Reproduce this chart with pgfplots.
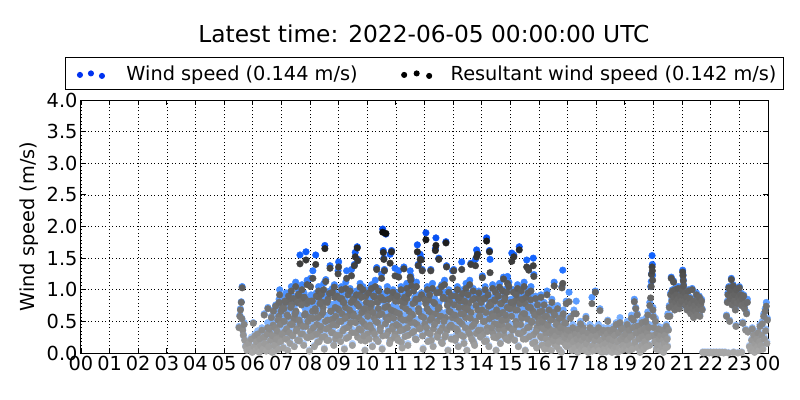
\documentclass[border=0pt]{standalone}
\usepackage{fontspec}
\setmainfont{DejaVu Sans}
\usepackage{pgfplots}
\usepackage{pgfplotstable}
\pgfplotsset{compat=1.18}
\definecolor{wsblue}{RGB}{0,50,240}
\pgfplotsset{
  colormap={wsmap}{rgb255=(195,218,255) rgb255=(125,178,255) rgb255=(70,142,255) rgb255=(20,100,255) rgb255=(0,70,235)},
  colormap={rwsmap}{rgb255=(168,168,168) rgb255=(128,128,128) rgb255=(95,95,95) rgb255=(55,55,55) rgb255=(5,5,5)}
}
\pgfplotstableread{
h ws rws
5.52 0.42 0.40
5.55 0.60 0.58
5.57 0.70 0.68
5.60 0.81 0.80
5.62 0.55 0.54
5.63 1.05 1.03
5.65 0.38 0.36
5.67 0.30 0.28
5.70 0.48 0.45
5.72 0.22 0.20
5.75 0.12 0.10
5.80 0.05 0.04
5.85 0.18 0.15
5.90 0.08 0.06
5.95 0.25 0.22
5.98 0.02 0.01
6.02 0.48 0.47
6.05 0.12 0.10
6.08 0.30 0.27
6.10 0.05 0.04
6.13 0.20 0.18
6.17 0.35 0.30
6.20 0.10 0.08
6.23 0.02 0.01
6.25 0.25 0.22
6.28 0.15 0.12
6.32 0.40 0.36
6.35 0.08 0.06
6.38 0.28 0.25
6.40 0.62 0.60
6.43 0.18 0.15
6.47 0.05 0.03
6.50 0.33 0.30
6.53 0.72 0.70
6.55 0.12 0.10
6.58 0.42 0.38
6.62 0.22 0.20
6.65 0.58 0.56
6.68 0.02 0.01
6.70 0.30 0.27
6.72 0.68 0.66
6.75 0.15 0.12
6.78 0.45 0.40
6.80 0.76 0.74
6.83 0.25 0.22
6.85 0.38 0.35
6.88 0.60 0.52
6.90 0.08 0.06
6.92 0.85 0.80
6.94 1.00 0.92
6.96 0.50 0.45
6.98 0.20 0.18
7.02 0.35 0.30
7.05 0.75 0.70
7.07 0.10 0.08
7.10 0.55 0.50
7.12 0.88 0.82
7.15 0.25 0.22
7.18 0.45 0.38
7.20 0.65 0.60
7.22 0.05 0.04
7.25 0.95 0.90
7.28 0.38 0.32
7.30 0.18 0.15
7.33 0.78 0.72
7.35 1.05 0.98
7.38 0.52 0.45
7.40 0.30 0.28
7.42 0.90 0.86
7.45 0.12 0.10
7.48 0.68 0.62
7.50 1.12 1.05
7.52 0.42 0.35
7.55 0.85 0.80
7.57 0.22 0.20
7.60 0.98 0.93
7.62 0.60 0.52
7.65 1.55 1.41
7.68 0.35 0.30
7.70 0.80 0.76
7.72 1.08 1.00
7.75 0.48 0.42
7.78 0.15 0.12
7.80 0.92 0.88
7.83 0.70 0.62
7.86 1.60 1.47
7.88 0.28 0.25
7.90 1.15 1.08
7.93 0.55 0.50
7.95 0.85 0.82
7.98 0.05 0.03
8.02 1.18 1.05
8.04 0.62 0.55
8.06 0.30 0.26
8.08 0.88 0.82
8.10 1.30 1.18
8.12 0.45 0.40
8.15 0.12 0.10
8.18 0.75 0.70
8.20 1.55 1.40
8.22 0.95 0.90
8.25 0.38 0.30
8.28 0.60 0.56
8.30 1.05 0.98
8.32 0.20 0.18
8.35 0.82 0.78
8.38 0.50 0.42
8.40 0.95 0.93
8.42 0.28 0.25
8.45 0.68 0.64
8.48 1.10 1.00
8.50 0.08 0.06
8.52 1.70 1.65
8.55 1.16 1.13
8.57 0.42 0.38
8.60 0.88 0.80
8.62 0.58 0.52
8.65 0.22 0.20
8.68 0.98 0.94
8.70 1.38 1.34
8.72 0.72 0.66
8.75 0.35 0.32
8.78 1.02 0.96
8.80 0.50 0.45
8.83 0.15 0.12
8.85 1.08 1.04
8.88 0.78 0.72
8.90 0.62 0.58
8.92 0.30 0.28
8.95 0.92 0.90
8.98 1.30 1.25
9.00 1.44 1.36
9.02 0.55 0.50
9.05 0.92 0.86
9.07 0.20 0.18
9.10 1.05 1.00
9.12 0.70 0.62
9.15 0.38 0.35
9.18 0.85 0.80
9.20 0.08 0.06
9.23 0.60 0.55
9.25 1.12 1.02
9.28 1.30 1.18
9.30 0.45 0.40
9.33 0.95 0.92
9.35 0.28 0.25
9.38 0.75 0.68
9.40 1.02 0.98
9.42 0.52 0.48
9.45 1.32 1.22
9.48 0.15 0.12
9.50 0.88 0.84
9.52 0.65 0.58
9.55 1.40 1.38
9.58 1.59 1.52
9.60 0.35 0.32
9.62 0.98 0.92
9.65 1.68 1.66
9.67 1.48 1.46
9.70 0.80 0.74
9.72 0.42 0.38
9.75 1.10 1.04
9.78 0.22 0.20
9.80 0.90 0.88
9.82 0.58 0.50
9.85 1.05 1.00
9.88 0.30 0.27
9.90 0.72 0.70
9.92 0.05 0.04
9.95 0.95 0.90
9.98 0.48 0.42
10.02 0.62 0.58
10.05 1.00 0.95
10.07 0.25 0.22
10.10 0.82 0.78
10.12 0.45 0.40
10.15 1.08 1.02
10.18 0.12 0.10
10.20 0.70 0.64
10.22 0.92 0.90
10.25 0.35 0.30
10.28 1.15 1.05
10.30 0.55 0.50
10.33 1.35 1.32
10.35 0.85 0.80
10.38 0.20 0.18
10.40 1.02 0.98
10.42 0.65 0.60
10.45 0.40 0.35
10.48 0.95 0.88
10.50 1.25 1.18
10.52 0.08 0.06
10.54 1.96 1.91
10.56 1.62 1.59
10.58 1.50 1.48
10.60 1.32 1.30
10.62 0.78 0.72
10.65 1.88 1.89
10.67 0.30 0.28
10.70 1.05 0.98
10.72 0.58 0.52
10.75 0.88 0.85
10.78 0.18 0.15
10.80 1.56 1.42
10.83 0.72 0.68
10.85 1.62 1.60
10.88 0.42 0.38
10.90 1.00 0.96
10.92 0.60 0.55
10.95 0.28 0.25
10.97 1.34 1.22
10.99 0.85 0.82
11.02 0.50 0.45
11.05 0.95 0.90
11.07 0.22 0.20
11.10 1.30 1.20
11.12 0.68 0.62
11.15 0.38 0.35
11.18 1.05 1.00
11.20 0.85 0.82
11.22 0.10 0.08
11.25 0.58 0.52
11.28 1.36 1.33
11.30 0.92 0.88
11.32 0.30 0.26
11.35 0.75 0.70
11.38 1.10 1.02
11.40 0.45 0.40
11.42 0.15 0.12
11.45 0.98 0.94
11.48 0.62 0.55
11.50 1.30 1.20
11.52 1.22 1.15
11.55 1.16 1.06
11.57 0.35 0.32
11.60 0.82 0.78
11.62 1.02 0.98
11.65 0.55 0.48
11.68 0.25 0.22
11.70 0.90 0.85
11.72 1.12 1.05
11.75 1.71 1.60
11.78 1.40 1.38
11.80 0.70 0.65
11.82 0.42 0.38
11.85 1.56 1.48
11.88 1.50 1.47
11.90 0.95 0.92
11.92 1.32 1.30
11.95 0.08 0.06
11.97 0.60 0.56
12.02 0.88 0.84
12.05 1.90 1.79
12.07 0.45 0.40
12.10 1.05 1.00
12.12 0.20 0.18
12.15 0.72 0.66
12.18 0.95 0.92
12.20 0.35 0.30
12.22 1.32 1.30
12.25 0.60 0.55
12.28 1.10 1.02
12.30 0.12 0.10
12.32 0.85 0.80
12.35 0.50 0.45
12.38 1.65 1.62
12.40 1.82 1.70
12.42 0.98 0.95
12.45 0.28 0.25
12.48 0.75 0.70
12.50 1.50 1.48
12.52 1.02 0.96
12.55 0.40 0.35
12.58 0.62 0.58
12.60 1.08 1.05
12.62 0.18 0.15
12.65 0.90 0.86
12.68 0.55 0.50
12.70 1.15 1.08
12.73 0.32 0.28
12.75 1.76 1.74
12.77 1.38 1.36
12.80 0.80 0.75
12.82 0.05 0.04
12.85 1.00 0.96
12.88 0.48 0.42
12.90 0.70 0.65
12.93 0.25 0.22
12.95 0.92 0.90
12.98 1.30 1.18
13.02 1.32 1.30
13.05 0.65 0.60
13.07 0.22 0.20
13.10 0.95 0.90
13.12 0.42 0.38
13.15 1.05 1.00
13.18 0.12 0.10
13.20 0.78 0.72
13.22 0.55 0.50
13.25 0.90 0.88
13.28 0.32 0.28
13.30 1.44 1.32
13.33 1.00 0.94
13.35 0.68 0.62
13.38 0.18 0.15
13.40 0.85 0.82
13.42 0.45 0.40
13.45 1.10 1.02
13.48 0.05 0.04
13.50 0.75 0.70
13.52 0.95 0.92
13.55 0.38 0.32
13.58 1.15 1.08
13.60 0.60 0.55
13.62 1.42 1.40
13.65 0.25 0.22
13.68 0.88 0.84
13.70 1.02 0.98
13.72 0.50 0.45
13.75 0.15 0.12
13.78 1.48 1.38
13.80 0.80 0.75
13.82 1.63 1.52
13.85 1.58 1.56
13.88 0.40 0.36
13.90 0.98 0.95
13.92 0.62 0.58
13.95 0.28 0.25
13.98 0.85 0.80
14.02 1.22 1.19
14.05 0.55 0.50
14.07 0.90 0.86
14.10 0.20 0.18
14.12 1.05 1.00
14.15 0.70 0.64
14.17 1.82 1.77
14.20 0.38 0.34
14.22 0.95 0.92
14.25 0.12 0.10
14.27 1.62 1.60
14.29 1.48 1.27
14.32 0.80 0.76
14.35 0.45 0.40
14.38 1.08 1.02
14.40 0.62 0.58
14.42 0.28 0.25
14.45 0.88 0.84
14.48 1.00 0.96
14.50 0.05 0.04
14.52 0.72 0.68
14.55 0.50 0.45
14.58 0.95 0.90
14.60 0.32 0.28
14.62 1.10 1.04
14.65 0.18 0.15
14.68 0.82 0.78
14.70 0.58 0.52
14.73 1.00 0.98
14.76 1.20 1.17
14.78 0.40 0.36
14.80 0.90 0.84
14.83 0.65 0.60
14.85 0.25 0.22
14.88 1.02 0.96
14.90 1.21 1.10
14.93 0.48 0.42
14.95 1.12 1.05
14.98 0.75 0.70
15.02 0.85 0.80
15.05 1.58 1.45
15.07 0.40 0.36
15.10 1.00 0.96
15.12 1.55 1.52
15.15 0.22 0.20
15.18 0.72 0.68
15.20 0.95 0.92
15.22 0.50 0.45
15.25 1.08 1.02
15.28 0.12 0.10
15.31 1.68 1.63
15.33 0.82 0.78
15.35 0.35 0.30
15.38 1.02 0.98
15.40 0.60 0.55
15.42 0.88 0.85
15.45 0.25 0.22
15.48 1.12 1.05
15.50 0.68 0.62
15.52 0.05 0.04
15.55 0.92 0.88
15.57 1.47 1.36
15.60 0.45 0.40
15.62 1.00 0.95
15.64 1.34 1.31
15.67 0.30 0.26
15.70 0.78 0.72
15.72 1.05 0.98
15.75 0.55 0.50
15.78 0.18 0.15
15.80 1.50 1.38
15.82 1.24 1.21
15.85 0.65 0.60
15.88 0.90 0.86
15.90 0.38 0.34
15.92 0.10 0.08
15.95 0.80 0.76
15.98 0.52 0.48
16.02 0.70 0.65
16.05 0.30 0.26
16.07 0.92 0.88
16.10 0.15 0.12
16.12 0.55 0.50
16.15 0.42 0.38
16.18 0.80 0.76
16.20 0.08 0.06
16.22 0.62 0.58
16.25 0.25 0.22
16.28 0.98 0.92
16.30 0.48 0.44
16.33 0.18 0.15
16.35 0.72 0.68
16.38 0.35 0.32
16.40 0.58 0.52
16.43 0.05 0.04
16.45 0.85 0.80
16.48 0.40 0.35
16.50 0.22 0.20
16.53 1.12 1.06
16.55 0.65 0.60
16.58 0.30 0.27
16.60 0.50 0.45
16.62 0.12 0.10
16.65 0.75 0.70
16.68 0.38 0.34
16.70 0.20 0.18
16.72 0.60 0.55
16.75 0.45 0.40
16.78 0.02 0.01
16.80 1.05 1.03
16.83 1.31 1.10
16.85 0.68 0.62
16.88 0.28 0.25
16.90 0.52 0.48
16.93 0.15 0.12
16.95 0.82 0.78
16.98 0.35 0.30
17.02 0.40 0.36
17.05 0.96 0.81
17.07 0.15 0.12
17.10 0.58 0.55
17.12 0.28 0.25
17.15 0.05 0.04
17.18 0.45 0.40
17.20 0.20 0.18
17.22 0.68 0.62
17.25 0.10 0.08
17.28 0.35 0.30
17.30 0.82 0.62
17.33 0.25 0.22
17.35 0.02 0.01
17.38 0.42 0.38
17.40 0.15 0.12
17.43 0.30 0.28
17.45 0.50 0.46
17.48 0.08 0.06
17.50 0.22 0.20
17.53 0.38 0.34
17.55 0.12 0.10
17.58 0.28 0.25
17.60 0.05 0.04
17.64 0.58 0.55
17.66 0.18 0.15
17.70 0.35 0.32
17.72 0.02 0.01
17.75 0.25 0.22
17.78 0.45 0.40
17.80 0.10 0.08
17.83 0.30 0.26
17.85 0.88 0.78
17.88 0.15 0.12
17.90 0.40 0.36
17.93 0.05 0.04
17.95 0.22 0.20
17.97 0.98 0.96
18.02 0.30 0.27
18.05 0.12 0.10
18.08 0.45 0.40
18.10 0.05 0.04
18.13 0.70 0.67
18.15 0.22 0.20
18.18 0.35 0.32
18.20 0.02 0.01
18.23 0.15 0.12
18.25 0.40 0.36
18.28 0.08 0.06
18.30 0.28 0.25
18.33 0.18 0.15
18.35 0.02 0.02
18.38 0.32 0.30
18.40 0.52 0.50
18.43 0.10 0.08
18.45 0.25 0.22
18.48 0.05 0.04
18.50 0.38 0.35
18.53 0.15 0.12
18.55 0.02 0.01
18.58 0.22 0.20
18.60 0.42 0.38
18.63 0.08 0.06
18.65 0.30 0.28
18.68 0.12 0.10
18.70 0.48 0.45
18.73 0.20 0.18
18.75 0.02 0.01
18.78 0.35 0.32
18.80 0.10 0.08
18.83 0.56 0.48
18.85 0.25 0.22
18.88 0.05 0.04
18.90 0.40 0.38
18.93 0.15 0.12
18.95 0.30 0.26
18.98 0.08 0.06
19.02 0.35 0.30
19.05 0.12 0.10
19.08 0.50 0.45
19.10 0.22 0.20
19.13 0.05 0.04
19.15 0.40 0.36
19.18 0.15 0.12
19.20 0.28 0.25
19.23 0.60 0.55
19.25 0.08 0.06
19.28 0.45 0.40
19.30 0.58 0.52
19.33 0.85 0.81
19.36 0.20 0.18
19.38 0.72 0.70
19.40 0.35 0.32
19.43 0.62 0.60
19.45 0.10 0.08
19.48 0.48 0.42
19.50 0.25 0.22
19.53 0.02 0.01
19.55 0.38 0.35
19.58 0.15 0.12
19.60 0.52 0.48
19.63 0.30 0.26
19.65 0.08 0.06
19.68 0.42 0.38
19.70 0.20 0.18
19.73 0.55 0.50
19.75 0.12 0.10
19.78 0.35 0.32
19.80 0.65 0.60
19.83 0.28 0.25
19.85 0.45 0.40
19.87 0.80 0.75
19.90 1.05 0.87
19.92 1.13 1.05
19.93 1.25 1.24
19.95 1.54 1.36
19.96 1.40 1.30
19.97 1.23 1.15
19.98 0.72 0.68
19.99 0.60 0.57
20.02 0.45 0.40
20.05 0.20 0.18
20.07 0.55 0.50
20.10 0.08 0.06
20.12 0.35 0.32
20.15 0.15 0.12
20.18 0.42 0.38
20.20 0.25 0.22
20.23 0.05 0.04
20.25 0.30 0.28
20.28 0.12 0.10
20.30 0.40 0.36
20.33 0.22 0.20
20.35 0.02 0.01
20.38 0.18 0.15
20.40 0.32 0.28
20.43 0.10 0.08
20.45 0.45 0.42
20.48 0.25 0.22
20.50 0.62 0.58
20.52 0.38 0.36
20.55 0.75 0.72
20.57 0.60 0.58
20.60 0.95 0.92
20.62 1.20 1.18
20.64 0.85 0.82
20.66 1.00 0.98
20.68 0.78 0.75
20.70 1.14 1.12
20.72 0.90 0.88
20.74 0.70 0.68
20.76 1.02 1.00
20.78 0.82 0.80
20.80 0.95 0.92
20.82 0.75 0.72
20.85 0.88 0.85
20.87 1.05 1.02
20.90 0.72 0.70
20.92 0.80 0.78
20.95 0.92 0.90
20.98 0.85 0.82
21.00 1.00 0.98
21.02 1.31 1.28
21.03 1.24 1.22
21.04 1.16 1.14
21.05 1.08 1.06
21.06 0.92 0.90
21.08 0.85 0.82
21.10 0.98 0.95
21.12 0.78 0.75
21.15 0.90 0.88
21.17 0.70 0.68
21.20 0.82 0.80
21.22 1.00 0.98
21.25 0.75 0.72
21.28 0.88 0.86
21.30 0.65 0.62
21.32 0.80 0.78
21.35 1.02 1.00
21.38 0.72 0.70
21.40 0.58 0.56
21.42 0.85 0.82
21.45 0.78 0.75
21.48 0.68 0.66
21.50 0.95 0.92
21.52 0.62 0.60
21.55 0.82 0.80
21.58 0.72 0.70
21.60 0.90 0.88
21.62 0.60 0.58
21.65 0.78 0.76
21.68 0.85 0.82
21.70 0.70 0.68
21.72 0.02 0.01
21.75 0.01 0.00
21.80 0.02 0.01
21.85 0.01 0.01
21.90 0.02 0.01
21.95 0.01 0.00
22.00 0.02 0.01
22.05 0.01 0.00
22.10 0.02 0.01
22.15 0.01 0.01
22.20 0.02 0.01
22.25 0.01 0.00
22.30 0.02 0.01
22.35 0.01 0.01
22.40 0.02 0.01
22.45 0.01 0.00
22.50 0.02 0.01
22.55 0.60 0.58
22.58 0.82 0.80
22.60 0.95 0.92
22.62 0.01 0.00
22.63 1.05 1.03
22.66 0.52 0.50
22.68 0.88 0.86
22.70 1.00 0.98
22.72 1.18 1.16
22.74 0.78 0.76
22.76 0.92 0.90
22.78 1.08 1.06
22.80 0.02 0.01
22.82 0.85 0.82
22.84 0.95 0.93
22.86 0.70 0.68
22.88 0.44 0.42
22.90 1.02 1.00
22.92 0.80 0.78
22.95 0.01 0.00
22.97 0.90 0.88
23.00 1.05 1.03
23.02 0.85 0.82
23.05 0.95 0.92
23.07 0.78 0.75
23.08 0.02 0.01
23.10 0.88 0.86
23.12 0.49 0.47
23.15 0.92 0.90
23.18 0.72 0.70
23.20 0.80 0.78
23.22 0.38 0.36
23.25 0.65 0.62
23.28 0.85 0.80
23.30 0.35 0.33
23.35 0.12 0.10
23.40 0.05 0.04
23.43 0.22 0.20
23.45 0.40 0.38
23.48 0.10 0.08
23.50 0.30 0.28
23.53 0.02 0.01
23.55 0.18 0.15
23.58 0.08 0.06
23.60 0.25 0.22
23.63 0.12 0.10
23.65 0.35 0.32
23.68 0.05 0.04
23.70 0.20 0.18
23.72 0.45 0.42
23.75 0.15 0.12
23.78 0.30 0.28
23.80 0.50 0.46
23.82 0.08 0.06
23.85 0.62 0.58
23.87 0.25 0.22
23.90 0.70 0.66
23.92 0.38 0.35
23.94 0.80 0.74
23.96 0.18 0.15
23.98 0.55 0.52
}\data
\pgfplotstableread{
h ws rws
6.41 0.30 0.25
6.46 0.15 0.13
6.52 0.48 0.40
6.57 0.06 0.05
6.61 0.36 0.30
6.66 0.25 0.21
6.71 0.52 0.44
6.76 0.04 0.03
6.81 0.32 0.28
6.86 0.18 0.16
6.91 0.65 0.58
6.95 0.28 0.24
6.99 0.72 0.66
7.01 0.62 0.50
7.04 0.82 0.72
7.09 0.84 0.70
7.11 0.40 0.33
7.16 0.95 0.80
7.19 0.27 0.22
7.24 0.71 0.58
7.27 0.90 0.84
7.31 0.53 0.45
7.36 0.88 0.76
7.39 0.33 0.27
7.44 0.66 0.52
7.46 0.62 0.56
7.51 0.78 0.66
7.54 0.47 0.38
7.59 1.02 0.90
7.63 0.22 0.19
7.66 0.58 0.46
7.71 0.91 0.82
7.74 0.36 0.30
7.79 0.95 0.88
7.81 0.74 0.60
7.86 0.50 0.42
7.89 0.86 0.78
7.93 0.29 0.24
7.97 0.68 0.56
8.01 0.41 0.34
8.04 0.92 0.82
8.09 0.74 0.66
8.11 0.67 0.55
8.16 0.35 0.29
8.19 0.80 0.66
8.24 0.55 0.45
8.27 0.20 0.17
8.31 0.98 0.88
8.36 0.44 0.36
8.39 0.70 0.60
8.44 0.88 0.80
8.46 0.85 0.72
8.51 0.31 0.26
8.54 0.60 0.50
8.59 0.24 0.20
8.63 0.93 0.85
8.66 0.48 0.40
8.71 0.58 0.52
8.74 0.77 0.66
8.79 0.38 0.32
8.81 0.64 0.54
8.86 0.96 0.88
8.89 0.26 0.22
8.93 0.52 0.44
8.97 0.82 0.70
9.01 0.78 0.68
9.04 0.33 0.28
9.09 0.60 0.50
9.11 0.95 0.86
9.16 0.86 0.80
9.19 0.46 0.38
9.24 0.83 0.72
9.27 0.27 0.23
9.31 0.68 0.58
9.36 0.52 0.42
9.39 0.66 0.60
9.44 0.90 0.80
9.46 0.38 0.32
9.51 0.73 0.62
9.54 0.92 0.86
9.59 0.58 0.48
9.63 0.86 0.78
9.66 0.30 0.25
9.71 0.64 0.56
9.74 1.00 0.92
9.79 0.44 0.36
9.81 0.70 0.64
9.86 0.76 0.66
9.89 0.55 0.46
9.93 0.22 0.19
9.97 0.88 0.80
10.01 0.36 0.30
10.04 0.74 0.64
10.09 0.52 0.44
10.11 0.78 0.72
10.16 0.88 0.78
10.19 0.42 0.35
10.24 0.65 0.56
10.27 0.97 0.88
10.31 0.26 0.22
10.36 0.58 0.48
10.39 0.80 0.70
10.44 0.90 0.84
10.46 0.48 0.40
10.51 0.70 0.62
10.54 0.32 0.27
10.59 0.92 0.84
10.63 0.55 0.46
10.66 0.62 0.56
10.71 0.84 0.74
10.74 0.40 0.34
10.79 0.66 0.58
10.81 0.24 0.20
10.86 0.96 0.88
10.89 0.50 0.42
10.93 0.76 0.66
10.97 0.35 0.30
11.01 0.72 0.64
11.04 0.28 0.24
11.09 0.90 0.82
11.11 0.50 0.42
11.16 0.63 0.55
11.19 0.20 0.17
11.24 0.82 0.74
11.27 0.44 0.37
11.31 0.86 0.80
11.36 0.60 0.52
11.39 0.95 0.86
11.44 0.34 0.28
11.46 0.76 0.66
11.51 0.56 0.48
11.54 0.68 0.62
11.59 0.68 0.60
11.63 0.40 0.34
11.66 0.88 0.80
11.71 0.25 0.21
11.74 0.53 0.45
11.79 0.78 0.70
11.81 0.92 0.86
11.86 0.46 0.39
11.89 0.66 0.58
11.93 0.32 0.27
11.97 0.94 0.86
12.01 0.54 0.46
12.04 0.84 0.78
12.09 0.78 0.70
12.11 0.38 0.32
12.16 0.92 0.84
12.19 0.60 0.52
12.24 0.24 0.20
12.27 0.70 0.62
12.31 0.46 0.38
12.36 0.86 0.78
12.39 0.68 0.62
12.44 0.58 0.50
12.46 0.36 0.30
12.51 0.80 0.72
12.54 0.66 0.58
12.59 0.20 0.17
12.63 0.48 0.40
12.66 0.96 0.88
12.71 0.30 0.25
12.74 0.64 0.56
12.79 0.42 0.36
12.81 0.90 0.84
12.86 0.74 0.66
12.89 0.88 0.80
12.93 0.52 0.44
12.97 0.62 0.56
13.01 0.46 0.40
13.04 0.84 0.76
13.09 0.28 0.24
13.11 0.62 0.54
13.16 0.40 0.34
13.19 0.92 0.84
13.24 0.88 0.82
13.27 0.70 0.62
13.31 0.54 0.46
13.36 0.30 0.26
13.39 0.80 0.72
13.44 0.64 0.56
13.46 0.74 0.68
13.51 0.44 0.38
13.54 0.86 0.78
13.59 0.34 0.29
13.63 0.72 0.64
13.66 0.50 0.42
13.71 0.20 0.17
13.74 0.94 0.86
13.79 0.58 0.50
13.81 0.36 0.31
13.86 0.76 0.68
13.89 0.92 0.86
13.93 0.66 0.58
13.97 0.42 0.36
14.01 0.76 0.68
14.04 0.34 0.29
14.09 0.58 0.50
14.11 0.94 0.86
14.16 0.22 0.19
14.19 0.48 0.40
14.24 0.82 0.74
14.27 0.62 0.54
14.31 0.86 0.80
14.36 0.70 0.62
14.39 0.38 0.32
14.44 0.54 0.46
14.46 0.90 0.82
14.51 0.28 0.24
14.54 0.66 0.58
14.59 0.44 0.38
14.63 0.68 0.62
14.66 0.86 0.78
14.71 0.52 0.44
14.74 0.72 0.64
14.79 0.32 0.27
14.81 0.94 0.88
14.86 0.60 0.52
14.89 0.80 0.72
14.93 0.24 0.20
14.97 0.46 0.40
15.01 0.30 0.26
15.04 0.66 0.58
15.09 0.84 0.76
15.11 0.44 0.38
15.16 0.88 0.82
15.19 0.58 0.50
15.24 0.76 0.68
15.27 0.36 0.31
15.31 0.92 0.84
15.36 0.52 0.45
15.39 0.64 0.58
15.44 0.70 0.62
15.46 0.40 0.34
15.51 0.86 0.78
15.54 0.26 0.22
15.59 0.62 0.54
15.63 0.80 0.72
15.66 0.48 0.41
15.71 0.90 0.84
15.74 0.56 0.48
15.79 0.74 0.66
15.81 0.34 0.29
15.86 0.20 0.17
15.89 0.68 0.60
15.93 0.46 0.40
15.97 0.64 0.56
16.01 0.46 0.40
16.04 0.62 0.55
16.09 0.28 0.24
16.11 0.74 0.66
16.16 0.14 0.12
16.19 0.52 0.46
16.24 0.36 0.31
16.27 0.66 0.58
16.31 0.08 0.07
16.36 0.44 0.38
16.39 0.24 0.21
16.44 0.60 0.53
16.46 0.32 0.28
16.51 0.72 0.64
16.54 0.16 0.14
16.59 0.40 0.35
16.63 0.56 0.49
16.66 0.26 0.22
16.71 0.06 0.05
16.74 0.48 0.42
16.79 0.34 0.30
16.81 0.64 0.56
16.86 0.20 0.17
16.89 0.42 0.37
16.93 0.54 0.47
16.97 0.12 0.10
17.01 0.22 0.20
17.09 0.34 0.30
17.16 0.12 0.10
17.24 0.40 0.36
17.31 0.18 0.16
17.39 0.06 0.05
17.46 0.30 0.27
17.54 0.44 0.40
17.63 0.14 0.12
17.71 0.26 0.23
17.79 0.36 0.32
17.86 0.04 0.03
17.94 0.32 0.28
18.04 0.38 0.34
18.11 0.20 0.18
18.19 0.08 0.07
18.27 0.34 0.30
18.34 0.24 0.21
18.41 0.40 0.36
18.49 0.14 0.12
18.57 0.30 0.27
18.64 0.04 0.03
18.72 0.36 0.32
18.79 0.22 0.19
18.87 0.44 0.40
18.94 0.18 0.16
19.04 0.24 0.21
19.11 0.42 0.38
19.19 0.06 0.05
19.26 0.32 0.28
19.34 0.16 0.14
19.41 0.46 0.42
19.49 0.28 0.25
19.56 0.10 0.08
19.64 0.36 0.32
19.71 0.22 0.19
19.79 0.46 0.42
19.86 0.14 0.12
19.94 0.30 0.27
20.04 0.32 0.28
20.11 0.16 0.14
20.19 0.28 0.25
20.26 0.06 0.05
20.34 0.36 0.32
20.41 0.20 0.18
20.49 0.12 0.10
}\extra
\begin{document}
\begin{tikzpicture}
\useasboundingbox (-81bp,-47bp) rectangle (719bp,353bp);
\begin{axis}[
  at={(0,0)}, anchor=south west,
  scale only axis, width=687bp, height=253bp,
  xmin=0, xmax=24, ymin=0, ymax=4,
  xtick={0,1,...,24},
  xticklabels={00,01,02,03,04,05,06,07,08,09,10,11,12,13,14,15,16,17,18,19,20,21,22,23,00},
  ytick={0,0.5,...,4},
  /pgf/number format/assume math mode=true,
  yticklabel style={/pgf/number format/fixed, /pgf/number format/fixed zerofill, /pgf/number format/precision=1},
  ticklabel style={font=\fontsize{19.4}{23}\selectfont},
  label style={font=\fontsize{19.4}{23}\selectfont},
  ylabel={Wind speed (m/s)},
  ylabel style={at={(axis description cs:-0.0757,0.5)}, anchor=center},
  grid=major,
  major grid style={black, line width=0.6bp, dash pattern=on 1bp off 2.5bp},
  axis line style={black, line width=1bp},
  major tick length=5bp,
  tick style={black, line width=0.8bp},
  tick align=inside,
  point meta min=0, point meta max=2,
  legend columns=2,
  legend style={at={(0.5,1)}, anchor=south, yshift=10bp, draw=black, line width=1bp,
    inner xsep=7bp, inner ysep=7bp,
    font=\fontsize{19.4}{23}\selectfont,
    nodes={inner xsep=0bp, inner ysep=1bp}},
  legend cell align=left,
]
\addplot[scatter, only marks, mark=*, mark size=3.3bp, colormap name=wsmap,
  scatter/use mapped color={draw=mapped color, fill=mapped color}, forget plot]
  table[x=h, y=ws] {\data};
\addplot[scatter, only marks, mark=*, mark size=3.3bp, colormap name=wsmap,
  scatter/use mapped color={draw=mapped color, fill=mapped color}, forget plot]
  table[x=h, y=ws] {\extra};
\addplot[scatter, only marks, mark=*, mark size=3.3bp, colormap name=rwsmap,
  scatter/use mapped color={draw=mapped color, fill=mapped color}, forget plot]
  table[x=h, y=rws] {\extra};
\addplot[scatter, only marks, mark=*, mark size=3.3bp, colormap name=rwsmap,
  scatter/use mapped color={draw=mapped color, fill=mapped color}, forget plot]
  table[x=h, y=rws] {\data};
\addlegendimage{legend image code/.code={
  \path[draw=none, fill=none] (0bp,0bp) -- (54bp,0bp);
  \fill[wsblue] (7.5bp,-1.5bp) circle (2.5bp);
  \fill[wsblue] (18.5bp,0bp) circle (2.5bp);
  \fill[wsblue] (29.5bp,-2.5bp) circle (2.5bp);}}
\addlegendentry{Wind speed (0.144 m/s)}
\addlegendimage{legend image code/.code={
  \path[draw=none, fill=none] (0bp,0bp) -- (93bp,0bp);
  \fill[black] (46.5bp,-1.5bp) circle (2.5bp);
  \fill[black] (59bp,0bp) circle (2.5bp);
  \fill[black] (71.5bp,-2.5bp) circle (2.5bp);}}
\addlegendentry{Resultant wind speed (0.142 m/s)}
\end{axis}
\node[anchor=base, font=\fontsize{23.4}{28}\selectfont] at (343bp,310bp) {Latest time: 2022-06-05 00:00:00 UTC};
\end{tikzpicture}
\end{document}
